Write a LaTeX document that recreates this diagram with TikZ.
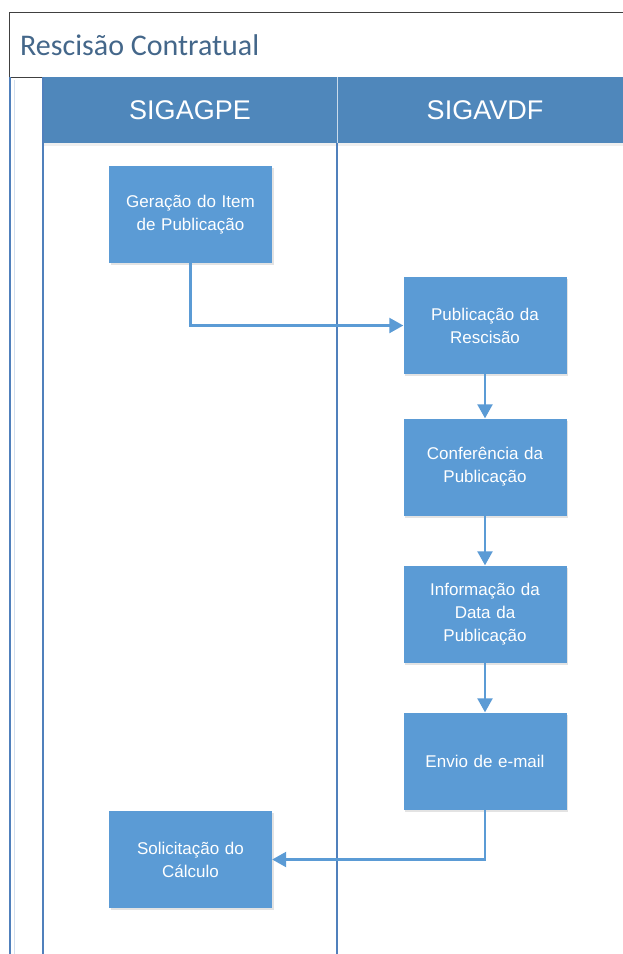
\documentclass[tikz,border=0pt]{standalone}
\usepackage{fontspec}
\setmainfont{Liberation Sans}
\newfontfamily\titlefont{Carlito}
\usetikzlibrary{arrows.meta,shadows}
\definecolor{hdr}{HTML}{4F87BB}
\definecolor{boxblue}{HTML}{5B9BD5}
\definecolor{laneline}{HTML}{5080BC}
\definecolor{titletxt}{HTML}{44678A}
\definecolor{titleborder}{HTML}{404040}
\tikzset{
  procbox/.style={rectangle, fill=boxblue, minimum width=163pt, minimum height=97pt, text width=160pt, align=center, text=white, font=\fontsize{17}{23}\selectfont, inner sep=0pt, drop shadow={opacity=0.22, shadow xshift=1.5pt, shadow yshift=-2pt}},
  flow/.style={draw=boxblue, line width=2.3pt, -{Triangle[length=14pt,width=15pt]}},
  lane/.style={draw=laneline, line width=1.3pt},
  hdrtext/.style={text=white, font=\fontsize{27}{30}\selectfont}
}
\begin{document}
\begin{tikzpicture}[x=1pt,y=-1pt]
\useasboundingbox (0,0) rectangle (623,954);
\fill[white] (0,0) rectangle (623,954);
% title box
\draw[titleborder, line width=1pt] (623,12) -- (9.5,12) -- (9.5,77) -- (623,77);
\node[anchor=west, text=titletxt, font=\titlefont\fontsize{30}{34}\selectfont, inner sep=0pt] (title) at (20,45) {Rescisão Contratual};
% header band
\fill[hdr] (43,77) rectangle (623,143);
\fill[black!12, opacity=0.5] (43,143) rectangle (623,146);
\draw[white!70!hdr, line width=0.8pt] (337,77) -- (337,143);
\node[hdrtext] (h1) at (190,110) {SIGAGPE};
\node[hdrtext] (h2) at (485,110) {SIGAVDF};
% lane lines
\draw[lane] (10,77) -- (10,954);
\draw[lane] (43,77) -- (43,954);
\draw[lane] (337,143) -- (337,954);
\draw[laneline!25, line width=1pt] (14,80) -- (14,954);
% boxes
\node[procbox] (b1) at (190.5,214.5) {Geração do Item\\de Publicação};
\node[procbox] (b2) at (485,325.5) {Publicação da\\Rescisão};
\node[procbox] (b3) at (485,467) {Conferência da\\Publicação};
\node[procbox] (b4) at (485,614) {Informação da\\Data da\\Publicação};
\node[procbox] (b5) at (485,761) {Envio de e-mail};
\node[procbox] (b6) at (190.5,859.5) {Solicitação do\\Cálculo};
% connectors
\draw[flow] (b1.south) |- (b2.west);
\draw[flow] (b2) -- (b3);
\draw[flow] (b3) -- (b4);
\draw[flow] (b4) -- (b5);
\draw[flow] (b5.south) |- (b6.east);
\end{tikzpicture}
\end{document}
